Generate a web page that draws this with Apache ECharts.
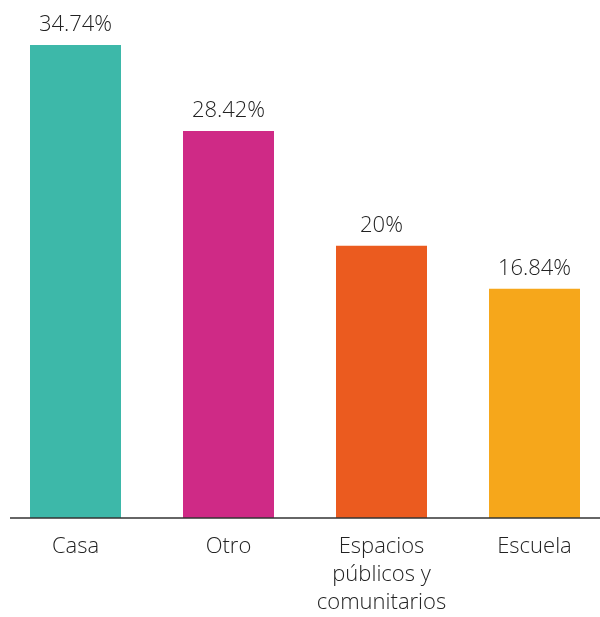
<!DOCTYPE html>
<html>
<head>
<meta charset="utf-8">
<script src="https://cdn.jsdelivr.net/npm/echarts@6/dist/echarts.min.js"></script>
<style>
  html, body { margin: 0; padding: 0; background: #fff; }
  #chart { width: 600px; height: 617px; }
</style>
</head>
<body>
<div id="chart"></div>
<script>
const categories = ['Casa', 'Otro', 'Espacios\npúblicos y\ncomunitarios', 'Escuela']
const values = [34.74, 28.42, 20, 16.84]
const valueLabels = ['34.74%', '28.42%', '20%', '16.84%']
const colors = ['#3db8a9', '#cf2a86', '#eb5b1f', '#f6a71b']

const fontFamily = '"Open Sans", Lato, sans-serif'
const chart = echarts.init(document.getElementById('chart'))

chart.setOption({
  animation: false,
  backgroundColor: '#fff',
  grid: { left: -1, width: 612, top: 41.5, bottom: 99, outerBoundsMode: 'none', containLabel: false },
  xAxis: {
    type: 'category',
    data: categories,
    axisLine: { show: false },
    axisTick: { show: false },
    axisLabel: {
      color: '#222',
      fontFamily,
      fontWeight: 300,
      fontSize: 22,
      lineHeight: 28,
      margin: 15,
      interval: 0,
    },
  },
  yAxis: {
    type: 'value',
    min: 0,
    max: 35,
    show: false,
  },
  series: [
    {
      type: 'bar',
      barWidth: 91,
      data: values.map((v, i) => ({ value: v, itemStyle: { color: colors[i] } })),
      label: {
        show: true,
        position: 'top',
        distance: 9,
        color: '#222',
        fontFamily,
        fontWeight: 300,
        fontSize: 22,
        formatter: (p) => valueLabels[p.dataIndex],
      },
    },
  ],
})

// baseline rule, it starts a little inside the left edge in the original
const baseY = chart.convertToPixel({ yAxisIndex: 0 }, 0)
chart.setOption({
  graphic: [
    {
      type: 'line',
      shape: { x1: 10, y1: baseY, x2: 600, y2: baseY },
      style: { stroke: '#333', lineWidth: 1.5 },
      z: 10,
    },
  ],
})
</script>
</body>
</html>
